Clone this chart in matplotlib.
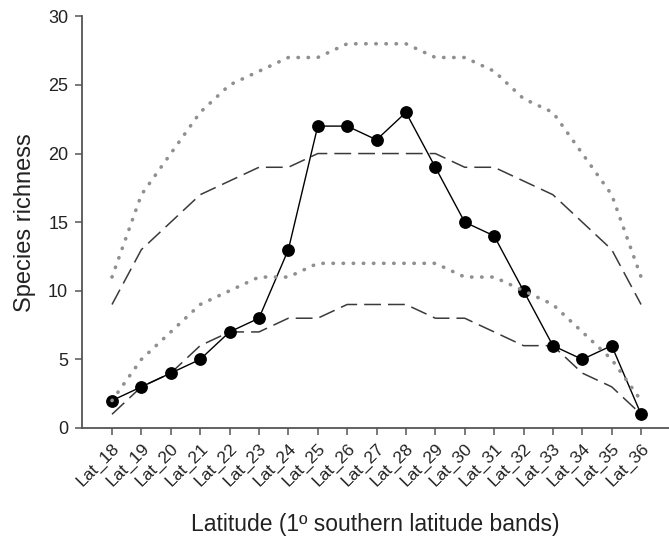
import matplotlib
matplotlib.use("Agg")
import matplotlib.pyplot as plt

plt.rcParams["font.family"] = ["Liberation Sans", "DejaVu Sans"]

# latitude bands and species richness values
bands = [f"Lat_{i}" for i in range(18, 37)]
observed = [2, 3, 4, 5, 7, 8, 13, 22, 22, 21, 23, 19, 15, 14, 10, 6, 5, 6, 1]
upper_dotted = [11, 17, 20, 23, 25, 26, 27, 27, 28, 28, 28, 27, 27, 26, 24, 23, 20, 17, 11]
upper_dashed = [9, 13, 15, 17, 18, 19, 19, 20, 20, 20, 20, 20, 19, 19, 18, 17, 15, 13, 9]
lower_dotted = [2, 5, 7, 9, 10, 11, 11, 12, 12, 12, 12, 12, 11, 11, 10, 9, 7, 5, 2]
lower_dashed = [1, 3, 4, 6, 7, 7, 8, 8, 9, 9, 9, 8, 8, 7, 6, 6, 4, 3, 1]

x = list(range(len(bands)))

fig = plt.figure(figsize=(6.69, 5.37), dpi=100)
ax = fig.add_axes([0.1226, 0.203, 0.8774, 0.7666])

dash_kw = dict(color="#3a3a3a", lw=1.1, linestyle=(0, (11, 4.6)))
dot_kw = dict(color="#8f8f8f", lw=2.6, linestyle=(0, (0.1, 2.7)),
              dash_capstyle="round")

ax.plot(x, upper_dashed, zorder=2, **dash_kw)
ax.plot(x, lower_dashed, zorder=2, **dash_kw)
ax.plot(x, observed, color="black", lw=1.0, marker="o", markersize=8.2,
        markerfacecolor="black", markeredgecolor="black", zorder=3)
ax.plot(x, upper_dotted, zorder=4, **dot_kw)
ax.plot(x, lower_dotted, zorder=4, **dot_kw)

ax.set_xlim(-1.02, 18.95)
ax.set_ylim(0, 30)
ax.set_yticks([0, 5, 10, 15, 20, 25, 30])
ax.set_xticks(x)
ax.set_xticklabels(bands, rotation=45, ha="right", va="top",
                   rotation_mode="anchor", fontsize=12.5)
ax.tick_params(axis="y", labelsize=13, length=5, width=1.1, pad=5,
               colors="#555555", labelcolor="#222222")
ax.tick_params(axis="x", length=5, width=1.1, pad=4,
               colors="#555555", labelcolor="#222222")

for side in ("top", "right"):
    ax.spines[side].set_visible(False)
for side in ("left", "bottom"):
    ax.spines[side].set_color("#555555")
    ax.spines[side].set_linewidth(1.3)

ax.set_ylabel("Species richness", fontsize=17, color="#222222", labelpad=9)
ax.set_xlabel("Latitude (1º southern latitude bands)", fontsize=16.5,
              color="#222222", labelpad=17)

fig.savefig("out.png", dpi=100)
